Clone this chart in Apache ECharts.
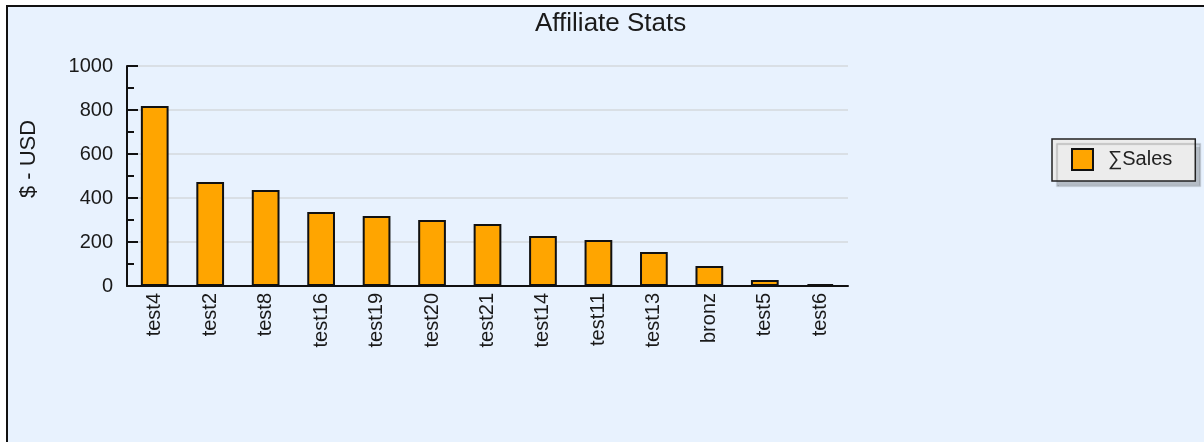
<!DOCTYPE html>
<html>
<head>
<meta charset="utf-8">
<script src="https://cdn.jsdelivr.net/npm/echarts@6/dist/echarts.min.js"></script>
<style>
  html, body { margin: 0; padding: 0; background: #ffffff; }
  #frame { position: absolute; left: 6px; top: 5px; width: 1400px; height: 600px;
           background: #e8f2fe; border-left: 2px solid #111; border-top: 2px solid #111; }
  #chart { position: absolute; left: 0; top: 0; width: 1204px; height: 442px; }
</style>
</head>
<body>
<div id="frame"></div>
<div id="chart"></div>
<script>
const titleText = 'Affiliate Stats';
const yAxisLabel = '$ - USD';
const seriesName = '∑Sales';
const categories = ['test4','test2','test8','test16','test19','test20','test21','test14','test11','test13','bronz','test5','test6'];
const sales = [818, 473, 436, 336, 318, 300, 282, 227, 209, 155, 91, 27, 9];
const yTicks = { min: 0, max: 1000, interval: 200 };

const FONT = 'Liberation Sans, Arial, sans-serif';
const chart = echarts.init(document.getElementById('chart'), null, { renderer: 'canvas' });
chart.setOption({
  backgroundColor: 'transparent',
  animation: false,
  title: {
    text: titleText,
    left: 535, top: 11, padding: 0,
    textStyle: { fontFamily: FONT, fontSize: 26, fontWeight: 'normal', color: '#1a1a1a' }
  },
  legend: {
    data: [seriesName],
    left: 1052, top: 139,
    padding: [9, 23, 10, 19],
    backgroundColor: '#ececec',
    borderColor: '#222', borderWidth: 1.5,
    shadowColor: 'rgba(0,0,0,0.22)', shadowOffsetX: 5, shadowOffsetY: 5, shadowBlur: 1,
    itemWidth: 21, itemHeight: 21, icon: 'rect',
    itemStyle: { borderColor: '#111', borderWidth: 2 },
    textStyle: { fontFamily: FONT, fontSize: 20, color: '#222', padding: [0, 0, 0, 10] }
  },
  graphic: [{
    type: 'text', x: 29, y: 159, rotation: Math.PI / 2,
    style: { text: yAxisLabel, fontFamily: FONT, fontSize: 22, fill: '#1a1a1a',
             textAlign: 'center', textVerticalAlign: 'middle' }
  }],
  grid: { left: 127, right: 356, top: 66, bottom: 156, containLabel: false },
  xAxis: {
    type: 'category', data: categories, boundaryGap: true,
    axisLine: { lineStyle: { color: '#111', width: 2 } },
    axisTick: { inside: true, length: 10, lineStyle: { color: '#111', width: 2 } },
    axisLabel: { rotate: 90, margin: 7, fontFamily: FONT, fontSize: 20, color: '#1a1a1a', interval: 0 }
  },
  yAxis: {
    type: 'value', min: yTicks.min, max: yTicks.max, interval: yTicks.interval,
    axisLine: { show: true, lineStyle: { color: '#111', width: 2 } },
    axisTick: { show: true, inside: true, length: 11, lineStyle: { color: '#111', width: 2 } },
    minorTick: { show: true, splitNumber: 2, length: 7, lineStyle: { color: '#111', width: 2 } },
    axisLabel: { margin: 14, fontFamily: FONT, fontSize: 20, color: '#1a1a1a',
                 formatter: function (v) { return String(v); } },
    splitLine: { show: true, lineStyle: { color: '#d5d8dc', width: 1.5 } }
  },
  series: [{
    name: seriesName, type: 'bar', data: sales, barWidth: '50%',
    itemStyle: { color: '#ffa500', borderColor: '#111', borderWidth: 2 }
  }]
});
</script>
</body>
</html>
